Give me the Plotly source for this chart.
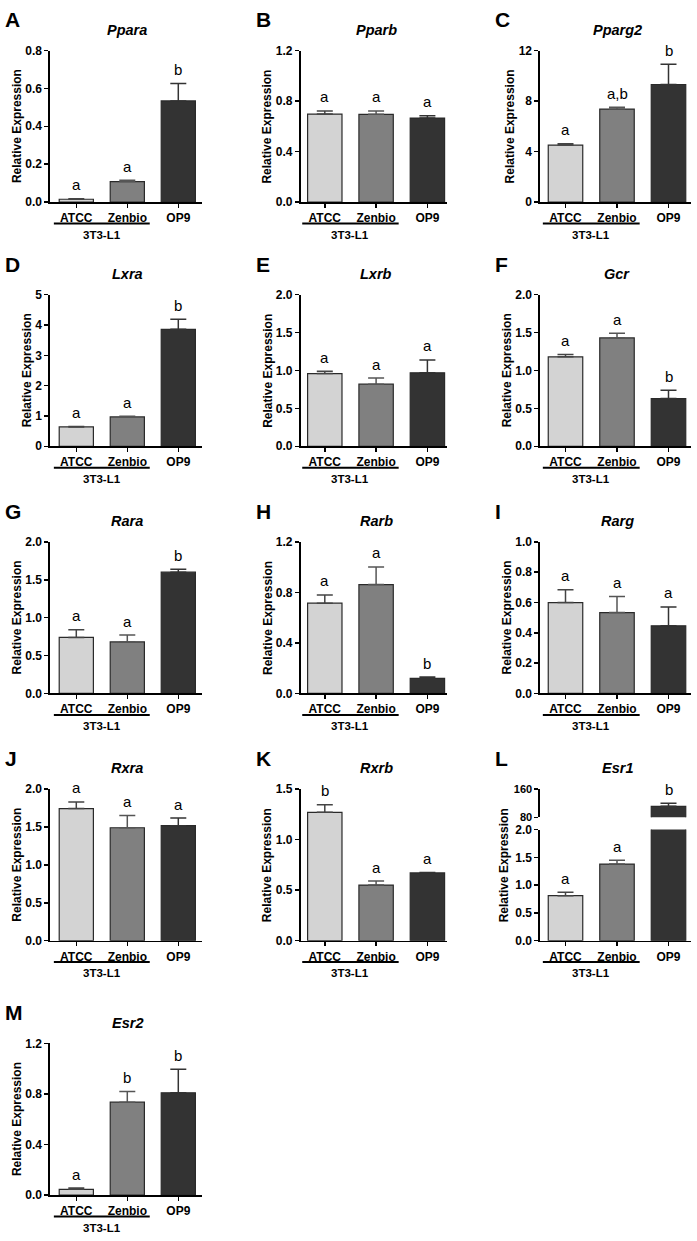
import plotly.graph_objects as go

W, H = 697, 1241

# ---------------- data ----------------
categories = ["ATCC", "Zenbio", "OP9"]
group_label = "3T3-L1"
letters = ["A", "B", "C", "D", "E", "F", "G", "H", "I", "J", "K", "L", "M"]
genes = ["Ppara", "Pparb", "Pparg2", "Lxra", "Lxrb", "Gcr", "Rara", "Rarb",
         "Rarg", "Rxra", "Rxrb", "Esr1", "Esr2"]

ppara_mean = [0.015, 0.108, 0.534]
ppara_sem = [0.002, 0.007, 0.092]
ppara_sig = ["a", "a", "b"]
ppara_ticks = ["0.0", "0.2", "0.4", "0.6", "0.8"]

pparb_mean = [0.697, 0.695, 0.665]
pparb_sem = [0.025, 0.027, 0.018]
pparb_sig = ["a", "a", "a"]
pparb_ticks = ["0.0", "0.4", "0.8", "1.2"]

pparg2_mean = [4.51, 7.36, 9.31]
pparg2_sem = [0.10, 0.15, 1.60]
pparg2_sig = ["a", "a,b", "b"]
pparg2_ticks = ["0", "4", "8", "12"]

lxra_mean = [0.64, 0.97, 3.86]
lxra_sem = [0.01, 0.02, 0.33]
lxra_sig = ["a", "a", "b"]
lxra_ticks = ["0", "1", "2", "3", "4", "5"]

lxrb_mean = [0.96, 0.82, 0.97]
lxrb_sem = [0.03, 0.08, 0.17]
lxrb_sig = ["a", "a", "a"]
lxrb_ticks = ["0.0", "0.5", "1.0", "1.5", "2.0"]

gcr_mean = [1.18, 1.43, 0.63]
gcr_sem = [0.03, 0.06, 0.11]
gcr_sig = ["a", "a", "b"]
gcr_ticks = ["0.0", "0.5", "1.0", "1.5", "2.0"]

rara_mean = [0.74, 0.68, 1.60]
rara_sem = [0.10, 0.09, 0.04]
rara_sig = ["a", "a", "b"]
rara_ticks = ["0.0", "0.5", "1.0", "1.5", "2.0"]

rarb_mean = [0.715, 0.862, 0.12]
rarb_sem = [0.065, 0.14, 0.01]
rarb_sig = ["a", "a", "b"]
rarb_ticks = ["0.0", "0.4", "0.8", "1.2"]

rarg_mean = [0.60, 0.534, 0.446]
rarg_sem = [0.085, 0.105, 0.125]
rarg_sig = ["a", "a", "a"]
rarg_ticks = ["0.0", "0.2", "0.4", "0.6", "0.8", "1.0"]

rxra_mean = [1.743, 1.49, 1.517]
rxra_sem = [0.087, 0.16, 0.10]
rxra_sig = ["a", "a", "a"]
rxra_ticks = ["0.0", "0.5", "1.0", "1.5", "2.0"]

rxrb_mean = [1.27, 0.55, 0.67]
rxrb_sem = [0.075, 0.04, 0.005]
rxrb_sig = ["b", "a", "a"]
rxrb_ticks = ["0.0", "0.5", "1.0", "1.5"]

esr1_mean = [0.81, 1.38, 111.0]
esr1_sem = [0.06, 0.07, 8.5]
esr1_sig = ["a", "a", "b"]
esr1_ticks = ["0.0", "0.5", "1.0", "1.5", "2.0"]
esr1_upper_ticks = ["80", "160"]

esr2_mean = [0.045, 0.735, 0.81]
esr2_sem = [0.01, 0.085, 0.185]
esr2_sig = ["a", "b", "b"]
esr2_ticks = ["0.0", "0.4", "0.8", "1.2"]

means = [ppara_mean, pparb_mean, pparg2_mean, lxra_mean, lxrb_mean, gcr_mean,
         rara_mean, rarb_mean, rarg_mean, rxra_mean, rxrb_mean, esr1_mean, esr2_mean]
sems = [ppara_sem, pparb_sem, pparg2_sem, lxra_sem, lxrb_sem, gcr_sem,
        rara_sem, rarb_sem, rarg_sem, rxra_sem, rxrb_sem, esr1_sem, esr2_sem]
sigs = [ppara_sig, pparb_sig, pparg2_sig, lxra_sig, lxrb_sig, gcr_sig,
        rara_sig, rarb_sig, rarg_sig, rxra_sig, rxrb_sig, esr1_sig, esr2_sig]
ticks = [ppara_ticks, pparb_ticks, pparg2_ticks, lxra_ticks, lxrb_ticks, gcr_ticks,
         rara_ticks, rarb_ticks, rarg_ticks, rxra_ticks, rxrb_ticks, esr1_ticks, esr2_ticks]

# ---------------- styling / layout ----------------
FONT = "Arial, Liberation Sans, sans-serif"
fill_colors = ["#d3d3d3", "#808080", "#333333"]
err_colors = ["#444444", "#555555", "#333333"]
edge_color = "#2a2a2a"

col_axis_x = [50, 300.5, 540]
col_axis_end = [202, 447, 691]
col_c0 = [76.3, 324.8, 565.5]
col_sp = [51.0, 51.3, 51.5]
row_top = [44, 291, 541, 791, 1048.3]
PH = 153.3
BARW = 0.67
BRK_UP_BOT = 819.5   # bottom of upper (80-160) segment of the broken axis
BRK_LO_TOP = 832.0   # top of lower (0-2) segment


def fx(px):
    return px / W


def fy(py):
    return 1 - py / H


def text_w(s, size=12):
    w = 0
    for ch in s:
        w += 0.278 if ch == "." else 0.556
    return w * size


fig = go.Figure()
annotations = []
shapes = []
layout = {}

for i, gene in enumerate(genes):
    k = i + 1
    r, c = divmod(i, 3)
    ax = col_axis_x[c]
    top = row_top[r]
    zero = top + PH
    lo = -(col_c0[c] - ax) / col_sp[c]
    hi = (col_axis_end[c] - col_c0[c]) / col_sp[c]
    xa = f"x{k}"
    ya = f"y{k}"
    tv = [float(t) for t in ticks[i]]
    broken = gene == "Esr1"
    if broken:
        y_lo_dom = [fy(zero), fy(BRK_LO_TOP)]
    else:
        y_lo_dom = [fy(zero), fy(top)]

    layout[f"xaxis{k}"] = dict(
        domain=[fx(ax), fx(col_axis_end[c])], range=[lo, hi], anchor=ya,
        tickvals=[0, 1, 2], ticktext=[f"<b>{t}</b>" for t in categories],
        ticks="outside", ticklen=4, tickwidth=1.5, tickcolor="black",
        showline=True, linewidth=1.6, linecolor="black",
        showgrid=False, zeroline=False, fixedrange=True,
        tickfont=dict(family=FONT, size=12, color="black"))
    layout[f"yaxis{k}"] = dict(
        domain=y_lo_dom, range=[tv[0], tv[-1]], anchor=xa,
        tickvals=tv, ticktext=[f"<b>{t}</b>" for t in ticks[i]],
        ticks="outside", ticklen=4, tickwidth=1.5, tickcolor="black",
        showline=True, linewidth=1.6, linecolor="black",
        showgrid=False, zeroline=False, fixedrange=True,
        tickfont=dict(family=FONT, size=12, color="black"))

    for j in range(3):
        show_err = not (broken and j == 2)
        fig.add_trace(go.Bar(
            x=[j], y=[means[i][j]], width=BARW, xaxis=xa, yaxis=ya,
            marker=dict(color=fill_colors[j], line=dict(color=edge_color, width=1.2)),
            error_y=dict(type="data", symmetric=False, array=[sems[i][j]],
                         arrayminus=[0], color=err_colors[j], thickness=1.5,
                         width=8, visible=show_err),
            showlegend=False, hoverinfo="skip"))

    tick_labels_all = list(ticks[i])
    if broken:
        ku = 14
        utv = [float(t) for t in esr1_upper_ticks]
        tick_labels_all += esr1_upper_ticks
        layout[f"xaxis{ku}"] = dict(
            domain=[fx(ax), fx(col_axis_end[c])], range=[lo, hi], anchor=f"y{ku}",
            visible=False, fixedrange=True)
        layout[f"yaxis{ku}"] = dict(
            domain=[fy(BRK_UP_BOT), fy(top)], range=[utv[0], utv[-1]], anchor=f"x{ku}",
            tickvals=utv, ticktext=[f"<b>{t}</b>" for t in esr1_upper_ticks],
            ticks="outside", ticklen=4, tickwidth=1.5, tickcolor="black",
            showline=True, linewidth=1.6, linecolor="black",
            showgrid=False, zeroline=False, fixedrange=True,
            tickfont=dict(family=FONT, size=11, color="black"))
        fig.add_trace(go.Bar(
            x=[2], y=[means[i][2]], width=BARW, xaxis=f"x{ku}", yaxis=f"y{ku}",
            marker=dict(color=fill_colors[2], line=dict(color=edge_color, width=1.2)),
            error_y=dict(type="data", symmetric=False, array=[sems[i][2]],
                         arrayminus=[0], color=err_colors[2], thickness=1.5, width=8),
            showlegend=False, hoverinfo="skip"))

    # significance letters
    for j in range(3):
        if broken and j == 2:
            axx, axy = "x14", "y14"
        else:
            axx, axy = xa, ya
        annotations.append(dict(
            x=j, y=means[i][j] + sems[i][j], xref=axx, yref=axy,
            text=sigs[i][j], showarrow=False, yanchor="middle", yshift=14,
            font=dict(family=FONT, size=15, color="black")))

    # panel letter
    annotations.append(dict(
        x=fx(ax - 47), y=fy(top - 31), xref="paper", yref="paper",
        text=f"<b>{letters[i]}</b>", showarrow=False, xanchor="left", yanchor="middle",
        font=dict(family=FONT, size=21, color="black")))
    # gene title
    annotations.append(dict(
        x=1, y=fy(top - 21), xref=xa, yref="paper",
        text=f"<b><i>{gene}</i></b>", showarrow=False, xanchor="center", yanchor="middle",
        font=dict(family=FONT, size=14.5, color="black")))
    # y axis title
    wmax = max(text_w(t) for t in tick_labels_all)
    annotations.append(dict(
        x=fx(ax - wmax - 16.5), y=fy(top + PH / 2), xref="paper", yref="paper",
        text="<b>Relative Expression</b>", showarrow=False, textangle=-90,
        xanchor="center", yanchor="middle",
        font=dict(family=FONT, size=12, color="black")))
    # group label + underline
    shapes.append(dict(
        type="line", xref=xa, yref="paper", x0=-0.44, x1=1.44,
        y0=fy(zero + 21.7), y1=fy(zero + 21.7),
        line=dict(color="black", width=2)))
    annotations.append(dict(
        x=0.5, y=fy(zero + 33), xref=xa, yref="paper",
        text=f"<b>{group_label}</b>", showarrow=False, xanchor="center", yanchor="middle",
        font=dict(family=FONT, size=11.5, color="black")))

fig.update_layout(
    width=W, height=H, margin=dict(l=0, r=0, t=0, b=0),
    paper_bgcolor="white", plot_bgcolor="white",
    barmode="overlay", showlegend=False,
    annotations=annotations, shapes=shapes,
    font=dict(family=FONT, color="black"),
    **layout)

fig.write_html(
    "out.html",
    config={"displayModeBar": False, "staticPlot": True},
    post_script="document.body.style.margin='0';"
                "document.documentElement.style.overflow='hidden';"
                "document.body.style.overflow='hidden';")
